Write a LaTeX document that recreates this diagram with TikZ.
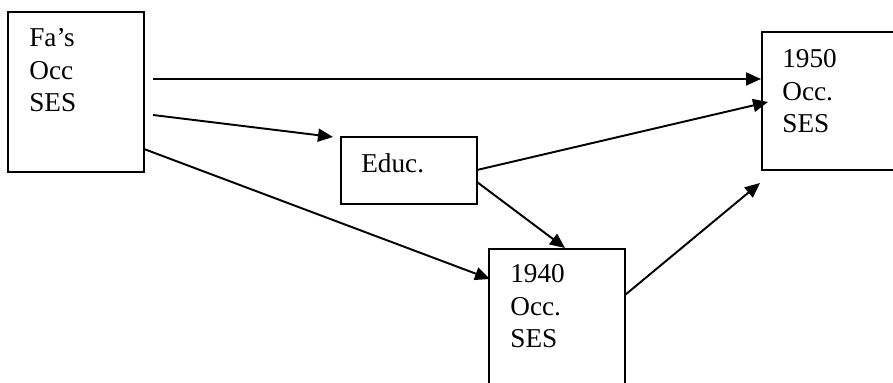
\documentclass[tikz,border=0pt]{standalone}
\usepackage{fontspec}
\setmainfont{Liberation Serif}
\usetikzlibrary{arrows.meta}

\begin{document}
\begin{tikzpicture}[box/.style={draw, line width=1.1pt, inner sep=0pt, outer sep=0pt, anchor=north west},
  lbl/.style={anchor=base west, align=left, inner sep=0pt, font=\fontsize{15.5}{18.5}\selectfont},
  arr/.style={line width=1.1pt, -{Triangle[length=0.30cm, width=0.26cm]}}]
\clip (0.000,0.000) rectangle (17.860,-7.660);
% boxes (two of them run off the page)
\node[box, minimum width=2.720cm, minimum height=3.200cm] (fa) at (0.160,-0.240) {};
\node[box, minimum width=2.720cm, minimum height=1.340cm] (educ) at (6.820,-2.740) {};
\node[box, minimum width=2.720cm, minimum height=3.400cm] (y40) at (9.780,-4.980) {};
\node[box, minimum width=3.400cm, minimum height=2.760cm] (y50) at (15.240,-0.640) {};
% texts, placed by the baseline of their last line
\node[lbl] (fatxt) at ([shift={(0.420,-2.000)}]fa.north west) {Fa’s\\Occ\\SES};
\node[lbl] (eductxt) at ([shift={(0.400,-0.720)}]educ.north west) {Educ.};
\node[lbl] (y40txt) at ([shift={(0.420,-1.980)}]y40.north west) {1940\\Occ.\\SES};
\node[lbl] (y50txt) at ([shift={(0.400,-2.020)}]y50.north west) {1950\\Occ.\\SES};
% paths
\draw[arr] ([shift={(0.180,-1.340)}]fa.north east) -- ([shift={(-0.020,-0.940)}]y50.north west);
\draw[arr] ([shift={(0.180,-2.060)}]fa.north east) -- ([shift={(-0.160,0.000)}]educ.north west);
\draw[arr] ([shift={(0.000,-2.740)}]fa.north east) -- ([shift={(0.020,-0.600)}]y40.north west);
\draw[arr] ([shift={(0.000,-0.660)}]educ.north east) -- ([shift={(0.120,-1.400)}]y50.north west);
\draw[arr] ([shift={(0.000,-0.900)}]educ.north east) -- ([shift={(1.520,0.020)}]y40.north west);
\draw[arr] ([shift={(0.000,-0.920)}]y40.north east) -- ([shift={(-0.040,-0.260)}]y50.south west);
\end{tikzpicture}
\end{document}
